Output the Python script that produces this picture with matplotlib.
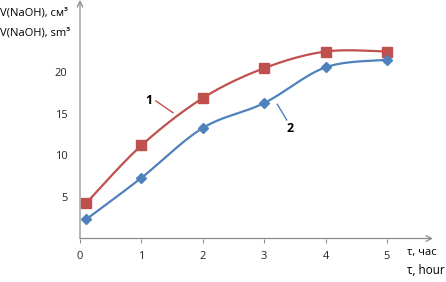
import numpy as np
import matplotlib
matplotlib.use("Agg")
import matplotlib.pyplot as plt

# Data
tau = [0.1, 1, 2, 3, 4, 5]
series1 = [4.25, 11.2, 16.9, 20.5, 22.5, 22.5]
series2 = [2.3, 7.3, 13.3, 16.3, 20.6, 21.5]
x_ticks = [0, 1, 2, 3, 4, 5]
y_ticks = [5, 10, 15, 20]

RED = "#C0504D"
BLUE = "#4F81BD"
AXIS = "#8C8C8C"
TXT = "#262626"

plt.rcParams['font.family'] = ['Open Sans', 'DejaVu Sans']


def smooth(xs, ys, n=30):
    xs = np.asarray(xs, float)
    ys = np.asarray(ys, float)
    px = np.concatenate([[xs[0]], xs, [xs[-1]]])
    py = np.concatenate([[ys[0]], ys, [ys[-1]]])
    ox, oy = [], []
    for i in range(1, len(px) - 2):
        p0 = np.array([px[i - 1], py[i - 1]])
        p1 = np.array([px[i], py[i]])
        p2 = np.array([px[i + 1], py[i + 1]])
        p3 = np.array([px[i + 2], py[i + 2]])
        c1 = p1 + (p2 - p0) / 6.0
        c2 = p2 - (p3 - p1) / 6.0
        t = np.linspace(0, 1, n)[:, None]
        b = ((1 - t) ** 3) * p1 + 3 * ((1 - t) ** 2) * t * c1 + 3 * (1 - t) * t ** 2 * c2 + t ** 3 * p2
        ox.extend(b[:, 0])
        oy.extend(b[:, 1])
    return ox, oy


fig = plt.figure(figsize=(4.46, 2.82), dpi=100)
ax = fig.add_axes([80 / 446, (282 - 238.5) / 282, 353 / 446, 238.5 / 282])
ax.set_xlim(0, 353 / 61.4)
ax.set_ylim(0, 238.5 / 8.31)

for s in ax.spines.values():
    s.set_visible(False)

sx, sy = smooth(tau, series1)
ax.plot(sx, sy, color=RED, lw=1.6, zorder=3)
ax.plot(tau, series1, ls='none', marker='s', ms=7, color=RED, zorder=4)
sx, sy = smooth(tau, series2)
ax.plot(sx, sy, color=BLUE, lw=1.6, zorder=3)
ax.plot(tau, series2, ls='none', marker='D', ms=5.5, color=BLUE, zorder=4)

ax.set_xticks(x_ticks)
ax.set_xticklabels([str(v) for v in x_ticks])
ax.set_yticks(y_ticks)
ax.set_yticklabels([str(v) for v in y_ticks])
ax.tick_params(axis='x', length=3, color=AXIS, pad=6, labelsize=8, labelcolor=TXT)
ax.tick_params(axis='y', length=0, pad=9, labelsize=8, labelcolor=TXT)

# axes with arrows
ax.annotate('', xy=(1.0, 0), xytext=(0, 0), xycoords='axes fraction',
            arrowprops=dict(arrowstyle='->', color=AXIS, lw=0.9, shrinkA=0, shrinkB=0,
                            mutation_scale=10), zorder=1)
ax.annotate('', xy=(0, 1.0), xytext=(0, 0), xycoords='axes fraction',
            arrowprops=dict(arrowstyle='->', color=AXIS, lw=0.9, shrinkA=0, shrinkB=0,
                            mutation_scale=10), zorder=1)

# curve labels
ax.text(149 / 446, 1 - 100 / 282, '1', transform=fig.transFigure, fontsize=9,
        ha='center', va='center', color='black', fontweight='bold')
ax.plot([(156 - 80) / 61.4, (173 - 80) / 61.4],
        [(238.5 - 101) / 8.31, (238.5 - 112.7) / 8.31], color=RED, lw=1.0)
ax.text(290 / 446, 1 - 128 / 282, '2', transform=fig.transFigure, fontsize=9,
        ha='center', va='center', color='black', fontweight='bold')
ax.plot([(277.3 - 80) / 61.4, (286.7 - 80) / 61.4],
        [(238.5 - 104.3) / 8.31, (238.5 - 120) / 8.31], color=BLUE, lw=1.0)

# axis titles
fig.text(0 / 446, 1 - 13 / 282, 'V(NaOH), см³', fontsize=8, ha='left', va='center', color='black')
fig.text(0 / 446, 1 - 33 / 282, 'V(NaOH), sm³', fontsize=8, ha='left', va='center', color='black')
fig.text(407 / 446, 1 - 253 / 282, 'τ, час', fontsize=8, ha='left', va='center', color='black')
fig.text(445 / 446, 1 - 270 / 282, 'τ, hour', fontsize=8.5, ha='right', va='center', color='black')

fig.savefig('out.png', dpi=100)
